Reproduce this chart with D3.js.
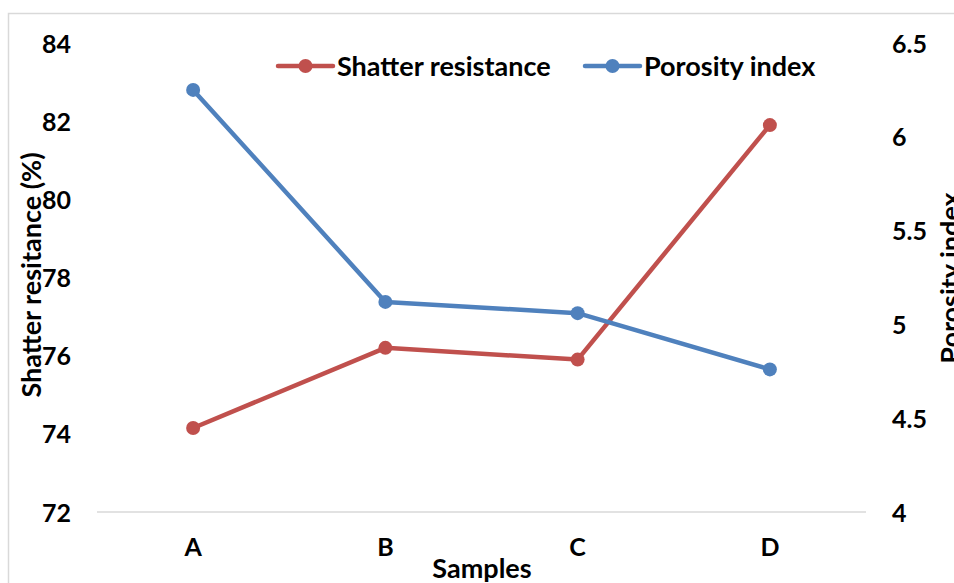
<!DOCTYPE html>
<html><head><meta charset="utf-8">
<script src="https://cdn.jsdelivr.net/npm/d3@7"></script>
<style>body{margin:0;background:#fff}svg{display:block}text{font-family:Lato,"Open Sans",sans-serif;font-weight:bold;fill:#000}</style>
</head><body>
<svg id="c" width="954" height="583"></svg>
<script>
const categories = ["A","B","C","D"];
const shatter = [74.15, 76.2, 75.9, 81.9];
const porosity = [6.25, 5.12, 5.06, 4.76];
const leftTicks = [72,74,76,78,80,82,84];
const rightTicks = [4,4.5,5,5.5,6,6.5];
const seriesNames = ["Shatter resistance","Porosity index"];
const colors = ["#C0504D","#4F81BD"];

const svg = d3.select("#c");
const L=97,R=866,T=43,B=512;
svg.append("rect").attr("x",8.5).attr("y",13.5).attr("width",960).attr("height",600)
  .attr("fill","none").attr("stroke","#D9D9D9").attr("stroke-width",1.5);

const x = d3.scaleBand().domain(categories).range([L,R]);
const yL = d3.scaleLinear().domain([72,84]).range([B,T]);
const yR = d3.scaleLinear().domain([4,6.5]).range([B,T]);

svg.append("line").attr("x1",L).attr("x2",R).attr("y1",B).attr("y2",B).attr("stroke","#D9D9D9").attr("stroke-width",1.5);

const TF = 25, LF = 27;
const ax1 = svg.append("g").attr("transform",`translate(71,0)`).call(d3.axisLeft(yL).tickValues(leftTicks).tickSize(0).tickPadding(0).tickFormat(d3.format("d")));
ax1.select(".domain").remove();
ax1.selectAll("text").attr("font-size",TF).attr("dy","0.36em");
const ax2 = svg.append("g").attr("transform",`translate(892,0)`).call(d3.axisRight(yR).tickValues(rightTicks).tickSize(0).tickPadding(0).tickFormat(d=>String(d)));
ax2.select(".domain").remove();
ax2.selectAll("text").attr("font-size",TF).attr("dy","0.36em");
const ax3 = svg.append("g").attr("transform",`translate(0,${B})`).call(d3.axisBottom(x).tickSize(0).tickPadding(0));
ax3.select(".domain").remove();
ax3.selectAll("text").attr("font-size",TF).attr("y",44).attr("dy",0);
svg.selectAll(".tick text").attr("font-family","Lato,sans-serif").attr("font-weight","bold").attr("fill","#000");

svg.append("text").attr("transform","translate(41,275) rotate(-90)").attr("text-anchor","middle").attr("font-size",LF).text("Shatter resitance (%)");
svg.append("text").attr("transform","translate(960,278) rotate(-90)").attr("text-anchor","middle").attr("font-size",LF).text("Porosity index");
svg.append("text").attr("x",482).attr("y",578).attr("text-anchor","middle").attr("font-size",LF).text("Samples");

const cx = d=>x(d)+x.bandwidth()/2;
[[shatter,yL],[porosity,yR]].forEach(([vals,sc],i)=>{
  const line = d3.line().x((d,j)=>cx(categories[j])).y(d=>sc(d));
  svg.append("path").datum(vals).attr("d",line).attr("fill","none").attr("stroke",colors[i]).attr("stroke-width",4.5).attr("stroke-linejoin","round");
  svg.selectAll(null).data(vals).enter().append("circle").attr("cx",(d,j)=>cx(categories[j])).attr("cy",d=>sc(d)).attr("r",7).attr("fill",colors[i]);
});

const lg = [{x:278},{x:585}];
lg.forEach((p,i)=>{
  const g = svg.append("g").attr("transform",`translate(${p.x},66)`);
  g.append("line").attr("x1",0).attr("x2",55).attr("stroke",colors[i]).attr("stroke-width",4.5).attr("stroke-linecap","round");
  g.append("circle").attr("cx",27.5).attr("r",7).attr("fill",colors[i]);
  g.append("text").attr("x",59).attr("dy","0.36em").attr("font-size",LF).text(seriesNames[i]);
});
</script>
</body></html>
